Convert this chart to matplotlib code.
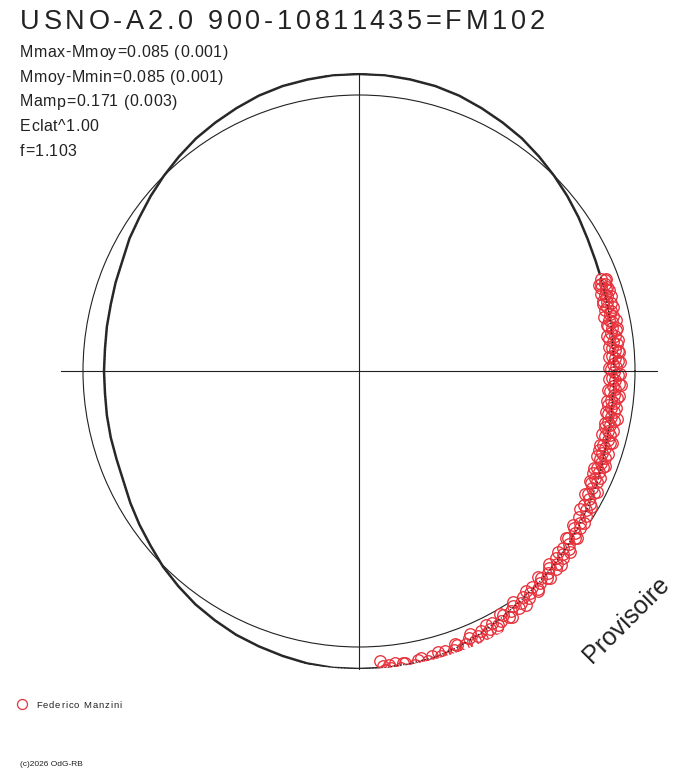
import numpy as np
import matplotlib
matplotlib.use('Agg')
import matplotlib.pyplot as plt
from matplotlib.transforms import IdentityTransform
from matplotlib.lines import Line2D

plt.rcParams['font.family'] = ['Liberation Sans', 'DejaVu Sans']

W, H = 688, 768
TXT = '#222222'
RED = '#e8323c'

title = 'USNO-A2.0 900-10811435=FM102'
stats = ['Mmax-Mmoy=0.085 (0.001)', 'Mmoy-Mmin=0.085 (0.001)',
         'Mamp=0.171 (0.003)', 'Eclat^1.00', 'f=1.103']
observer = 'Federico Manzini'
credit = '(c)2026 OdG-RB'
stamp = 'Provisoire'

# fitted curve in polar form, one radius every 5 deg
curve_deg = np.arange(0, 360, 5)
curve_r = [255, 255, 256, 257, 259, 261, 264, 268, 272, 276, 280, 284,
           287, 290, 293, 295, 296, 297, 297, 297, 296, 295, 293, 290,
           287, 284, 280, 276, 272, 268, 265, 261, 259, 257, 256, 255,
           255, 255, 256, 257, 258, 260, 264, 268, 272, 277, 281, 285,
           288, 291, 293, 295, 297, 298, 298, 298, 297, 296, 293, 289,
           285, 281, 278, 275, 272, 269, 266, 263, 260, 257, 256, 255]
ref_r = 276
axis_r = 298

# observations (phase angle in deg, radius)
obs_deg = [20.8, 20.3, 19.9, 19.4, 18.8, 18.3, 17.9, 17.2, 16.8, 16.1,
           15.6, 15.0, 14.4, 13.9, 13.3, 12.8, 12.1, 11.5, 10.9, 10.2,
           9.7, 9.1, 8.5, 7.8, 7.2, 6.6, 6.0, 5.3, 4.7, 4.1,
           3.5, 2.9, 2.2, 1.6, 1.0, 0.4, -0.3, -0.9, -1.5, -2.1,
           -2.8, -3.4, -4.0, -4.6, -5.3, -5.9, -6.5, -7.2, -7.8, -8.4,
           -9.1, -9.7, -10.3, -11.0, -11.6, -12.2, -12.9, -13.5, -14.2, -14.8,
           -15.5, -16.1, -16.8, -17.4, -18.1, -18.7, -19.4, -20.0, -20.7, -21.4,
           -22.1, -22.8, -23.5, -24.3, -25.0, -25.8, -26.6, -27.4, -28.2, -29.0,
           -29.9, -30.7, -31.6, -32.5, -33.6, -34.5, -35.3, -36.2, -37.0, -37.8,
           -38.6, -39.4, -40.2, -41.0, -41.8, -42.6, -43.5, -44.3, -45.1, -46.0,
           -46.9, -47.8, -48.7, -49.6, -50.5, -51.4, -52.3, -53.2, -54.1, -55.0,
           -55.9, -56.8, -57.7, -58.6, -59.5, -60.4, -61.3, -62.2, -63.1, -64.0,
           -64.9, -65.8, -66.7, -67.6, -68.5, -69.4, -70.3, -71.2, -72.1, -73.0,
           -73.9, -74.8, -75.7, -76.6, -77.5, -78.4, -79.3, -80.2, -81.1, -82.0,
           -82.9, -83.8, -84.6, -85.3, -85.8,
           20.5, 19.6, 18.6, 17.6, 16.5, 15.3, 14.1, 12.5, 11.2, 10.5,
           9.4, 8.1, 6.9, 5.6, 4.4, 3.2, 1.9, 0.7, -0.6, -1.8,
           -3.1, -4.3, -5.6, -6.8, -8.1, -9.4, -10.6, -11.9, -13.2, -14.5,
           -15.8, -17.1, -18.4, -19.7, -21.0, -22.4, -23.9, -25.4, -27.0, -28.6,
           -30.3, -32.0, -34.0, -35.7, -37.4, -39.0, -40.6, -42.2, -43.9, -45.5,
           -47.3, -49.1, -50.9, -52.7, -54.5, -56.3, -58.1, -59.9, -61.7, -63.5,
           -65.3, -67.1, -68.9, -70.7, -72.5, -74.3, -76.1, -77.9, -79.7, -81.5,
           -83.3, -84.2, -85.0]
obs_r = [259, 262, 257, 261, 256, 260, 263, 257, 259, 254,
         258, 261, 256, 253, 259, 257, 260, 255, 258, 253,
         257, 260, 255, 258, 252, 256, 259, 254, 257, 261,
         253, 256, 259, 254, 257, 252, 255, 259, 253, 256,
         260, 254, 257, 252, 256, 259, 254, 257, 251, 255,
         258, 253, 256, 260, 254, 257, 252, 256, 259, 254,
         258, 261, 255, 258, 253, 257, 261, 256, 259, 262,
         257, 260, 255, 259, 263, 258, 261, 265, 260, 263,
         267, 262, 266, 269, 264, 268, 271, 266, 270, 273,
         268, 272, 275, 270, 274, 277, 272, 276, 279, 274,
         277, 280, 275, 279, 282, 277, 280, 284, 279, 283,
         286, 281, 284, 288, 283, 287, 290, 285, 289, 292,
         287, 291, 294, 289, 293, 296, 291, 295, 298, 293,
         297, 300, 294, 298, 301, 295, 299, 302, 296, 300,
         294, 299, 303, 296, 291,
         264, 255, 262, 254, 263, 253, 262, 251, 262, 252,
         262, 251, 261, 251, 260, 250, 261, 250, 261, 250,
         262, 250, 261, 250, 260, 250, 262, 251, 261, 251,
         263, 252, 262, 253, 264, 254, 264, 256, 267, 257,
         269, 261, 272, 264, 275, 266, 278, 269, 280, 271,
         282, 273, 284, 276, 287, 278, 290, 281, 292, 284,
         295, 286, 297, 289, 300, 292, 302, 294, 303, 295,
         302, 296, 300]

fig = plt.figure(figsize=(W / 100, H / 100), dpi=100)
cx, cy = 359, H - 371
ax = fig.add_axes([(cx - axis_r) / W, (cy - axis_r) / H,
                   2 * axis_r / W, 2 * axis_r / H], projection='polar')
ax.set_ylim(0, axis_r)
ax.set_thetagrids([])
ax.set_rgrids([ref_r], labels=[''])
ax.yaxis.grid(True, color=TXT, lw=0.8)
ax.spines['polar'].set_visible(False)

# cross hair
ax.plot(np.radians([0, 180]), [axis_r, axis_r], color=TXT, lw=0.8, clip_on=False, zorder=6)
ax.plot(np.radians([90, 270]), [axis_r, axis_r], color=TXT, lw=0.8, clip_on=False, zorder=6)

th = np.radians(np.append(curve_deg, 360))
rr = np.append(curve_r, curve_r[0])
ax.plot(th, rr, color='#2b2b2b', lw=1.8, zorder=2, solid_joinstyle='round')

ot = np.radians(obs_deg)
ax.plot(ot, obs_r, 'o', ms=8.0, mfc='white', mec='none', zorder=3)
ax.plot(ot, obs_r, 'o', ms=8.3, mfc='none', mec=RED, mew=0.95, zorder=4)
ax.plot(th, rr, color=TXT, lw=0.9, ls=(0, (1, 1.5)), zorder=5)

ren = fig.canvas.get_renderer()


def text_width(s, size):
    t = fig.text(0, 0, s + '|', fontsize=size)
    w = t.get_window_extent(ren).width
    t.remove()
    return w


def tracked(x, y, s, size, track, color=TXT):
    # letter-spaced text, x/y in pixels from the top left
    base = text_width('', size)
    for i, ch in enumerate(s):
        if ch == ' ':
            continue
        off = text_width(s[:i], size) - base + i * track
        fig.text(x + off, H - y, ch, fontsize=size, color=color,
                 transform=IdentityTransform(), va='baseline')


tracked(20, 29, title, 19.5, 3.7)
for i, line in enumerate(stats):
    tracked(20, 57 + i * 24.75, line, 11.5, 0.5)

fig.text(626 / W, 1 - 620 / H, stamp, rotation=45, fontsize=18, color=TXT,
         ha='center', va='center', rotation_mode='anchor')

fig.add_artist(Line2D([22.3 / W], [1 - 704.3 / H], marker='o', ms=7.2,
                      mfc='none', mec=RED, mew=0.9, ls='none'))
tracked(36, 708.5, observer, 6.8, 0.9)
fig.text(20 / W, 1 - 766.5 / H, credit, fontsize=6, color=TXT, va='baseline')

fig.savefig('out.png', dpi=100, facecolor='white')
